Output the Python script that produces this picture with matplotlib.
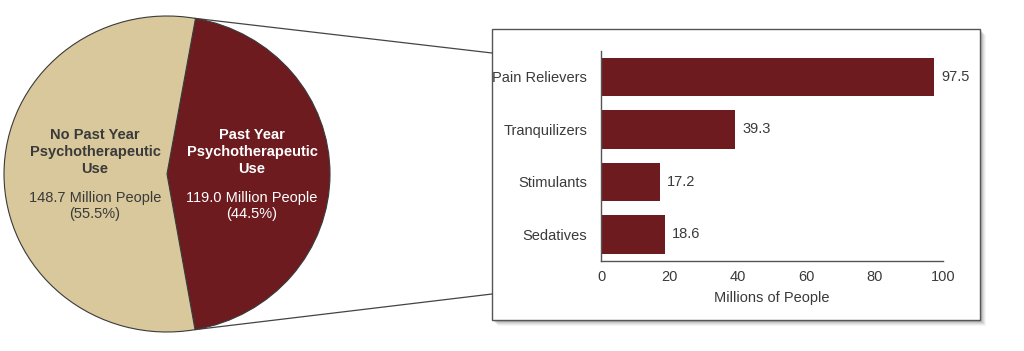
import numpy as np
import matplotlib.pyplot as plt
from matplotlib.patches import Rectangle

# datos
pie_labels = ['Past Year\nPsychotherapeutic\nUse', 'No Past Year\nPsychotherapeutic\nUse']
pie_people = [119.0, 148.7]
pie_pct = [44.5, 55.5]

drugs = ['Pain Relievers', 'Tranquilizers', 'Stimulants', 'Sedatives']
drug_values = [97.5, 39.3, 17.2, 18.6]
x_ticks = [0, 20, 40, 60, 80, 100]

dark_red = '#6d1b1f'
tan = '#d8c89b'
text_gray = '#3a3a3a'
plt.rcParams['font.family'] = ['Liberation Sans', 'DejaVu Sans']
FS = 10.5

W, H = 1024, 351
fig = plt.figure(figsize=(W / 100, H / 100), dpi=100)

# fondo en pixeles para la caja y las lineas
bg = fig.add_axes([0, 0, 1, 1], zorder=0)
bg.set_xlim(0, W)
bg.set_ylim(H, 0)
bg.axis('off')

# pastel
cx, cy, rx, ry = 167, 174, 163, 158
half = 360 * pie_pct[0] / 100 / 2
pax = fig.add_axes([(cx - rx) / W, (H - cy - ry) / H, 2 * rx / W, 2 * ry / H], zorder=2)
wedges, _ = pax.pie(pie_people, colors=[dark_red, tan], startangle=-half, counterclock=True,
                    wedgeprops=dict(edgecolor='#3a3a3a', linewidth=0.8))
for w in wedges:
    w.set_clip_on(False)
pax.set_aspect('auto')
pax.set_xlim(-1, 1)
pax.set_ylim(-1, 1)

# textos del pastel (encima de todo)
txt_colors = ['white', text_gray]
txt_x = [252, 95]
for i in range(2):
    fig.text(txt_x[i], 152, pie_labels[i], ha='center', va='center', fontsize=FS,
             fontweight='bold', color=txt_colors[i], linespacing=1.3,
             transform=bg.transData, zorder=10)
    fig.text(txt_x[i], 206, f'{pie_people[i]:.1f} Million People\n({pie_pct[i]}%)',
             ha='center', va='center', fontsize=FS, color=txt_colors[i],
             linespacing=1.15, transform=bg.transData, zorder=10)

# caja con sombra
bx0, by0, bx1, by1 = 492, 29, 980, 320
for k, a in zip(range(6, 0, -1), [0.05, 0.08, 0.1, 0.14, 0.18, 0.22]):
    bg.add_patch(Rectangle((bx0 + k, by0 + k), bx1 - bx0, by1 - by0,
                           facecolor='#555555', edgecolor='none', alpha=a))
bg.add_patch(Rectangle((bx0, by0), bx1 - bx0, by1 - by0, facecolor='white',
                       edgecolor='#555555', linewidth=1.0))

# lineas de union desde los bordes del pastel
for ang, by in [(half, 53), (-half, 294)]:
    px = cx + rx * np.cos(np.radians(ang))
    py = cy - ry * np.sin(np.radians(ang))
    bg.plot([px, bx0], [py, by], color='#444444', linewidth=0.9)

# barras
ax = fig.add_axes([601 / W, (H - 260.7) / H, 342 / W, 210 / H], zorder=3)
ax.set_facecolor('none')
y = np.arange(len(drugs))
ax.barh(y, drug_values, height=0.73, color=dark_red)
ax.set_ylim(len(drugs) - 0.5, -0.5)
ax.set_xlim(0, 100)
ax.set_yticks(y)
ax.set_yticklabels(drugs)
ax.set_xticks(x_ticks)
ax.tick_params(length=0, labelsize=FS, labelcolor=text_gray)
ax.tick_params(axis='y', pad=10)
ax.tick_params(axis='x', pad=7)
for s in ['top', 'right']:
    ax.spines[s].set_visible(False)
for s in ['left', 'bottom']:
    ax.spines[s].set_color('#555555')
    ax.spines[s].set_linewidth(1.0)
for yi, v in zip(y, drug_values):
    ax.text(v + 2, yi, f'{v}', va='center', ha='left', fontsize=FS, color=text_gray)
ax.set_xlabel('Millions of People', fontsize=FS, color=text_gray, labelpad=5)

fig.savefig('out.png', dpi=100)
